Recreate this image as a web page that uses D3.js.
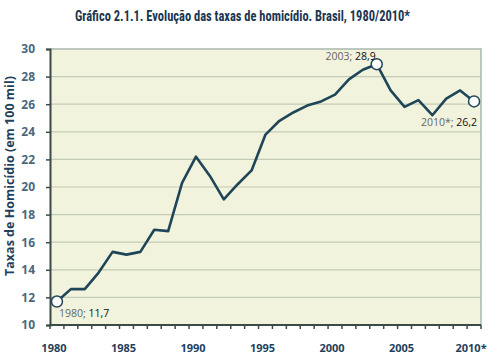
<!DOCTYPE html>
<html>
<head>
<meta charset="utf-8">
<script src="https://cdn.jsdelivr.net/npm/d3@7"></script>
<style>
  html, body { margin: 0; padding: 0; background: #ffffff; }
  svg { display: block; }
</style>
</head>
<body>
<svg id="chart" width="494" height="363"></svg>
<script>
const years = d3.range(1980, 2011);
const rates = [11.7, 12.6, 12.6, 13.8, 15.3, 15.1, 15.3, 16.9, 16.8, 20.3, 22.2, 20.8, 19.1, 20.2, 21.2, 23.8, 24.8, 25.4, 25.9, 26.2, 26.7, 27.8, 28.5, 28.9, 27.0, 25.8, 26.3, 25.2, 26.4, 27.0, 26.2];
const xTickYears = [1980, 1985, 1990, 1995, 2000, 2005, 2010];
const xTickLabels = ["1980", "1985", "1990", "1995", "2000", "2005", "2010*"];
const yTicks = [10, 12, 14, 16, 18, 20, 22, 24, 26, 28, 30];
const annotations = [
  { year: 1980, prefix: "1980; ", value: "11,7" },
  { year: 2003, prefix: "2003; ", value: "28,9" },
  { year: 2010, prefix: "2010*; ", value: "26,2" }
];
const titleText = "Gráfico 2.1.1. Evolução das taxas de homicídio. Brasil, 1980/2010*";
const yTitle = "Taxas de Homicídio (em 100 mil)";

(function () {
const svg = d3.select("#chart");
const pL = 50, pR = 481, pT = 49, pB = 325;

const x = d3.scaleBand().domain(years).range([pL, pR]).padding(0);
const y = d3.scaleLinear().domain([10, 30]).range([pB, pT]);

// plot background
svg.append("rect").attr("x", pL).attr("y", pT)
  .attr("width", pR - pL).attr("height", pB - pT)
  .attr("fill", "#f2f3dc");

// gridlines
svg.append("g").selectAll("line").data(yTicks.filter(d => d > 10 && d < 30)).join("line")
  .attr("x1", pL).attr("x2", pR)
  .attr("y1", d => y(d)).attr("y2", d => y(d))
  .attr("stroke", "#c3ccb6").attr("stroke-width", 1.2);

// top and right border
svg.append("path")
  .attr("d", `M${pL},${pT}H${pR}V${pB}`)
  .attr("fill", "none").attr("stroke", "#a9b8ad").attr("stroke-width", 1.5);

// y axis
const yAxis = svg.append("g").attr("transform", `translate(${pL},0)`)
  .call(d3.axisLeft(y).tickValues(yTicks).tickSize(4).tickFormat(d3.format("d")));
yAxis.select(".domain").attr("stroke", "#3b4a45").attr("stroke-width", 2);
yAxis.selectAll(".tick line").attr("stroke", "#3b4a45").attr("stroke-width", 1.5);
yAxis.selectAll(".tick text")
  .attr("x", -15)
  .attr("fill", "#4b687c")
  .style("font-family", "'Open Sans', sans-serif")
  .style("font-weight", "bold")
  .style("font-size", "12px");

// x axis with ticks at band edges
const xEdges = d3.range(0, years.length + 1).map(i => pL + i * x.bandwidth());
const xAxisG = svg.append("g");
xAxisG.append("line").attr("x1", pL).attr("x2", pR)
  .attr("y1", pB).attr("y2", pB)
  .attr("stroke", "#3b4a45").attr("stroke-width", 2);
xAxisG.selectAll("line.tk").data(xEdges).join("line").attr("class", "tk")
  .attr("x1", d => d).attr("x2", d => d)
  .attr("y1", pB).attr("y2", pB + 4)
  .attr("stroke", "#3b4a45").attr("stroke-width", 1.5);
xAxisG.selectAll("text").data(xTickYears).join("text")
  .attr("x", (d, i) => x(d) + x.bandwidth() / 2 - 3)
  .attr("y", 352)
  .attr("text-anchor", "middle")
  .attr("fill", "#1f3f5c")
  .style("font-family", "'Open Sans', sans-serif")
  .style("font-weight", "bold")
  .style("font-size", "11px")
  .text((d, i) => xTickLabels[i]);

// line
const line = d3.line()
  .x((d, i) => x(years[i]) + x.bandwidth() / 2)
  .y(d => y(d));
svg.append("path").datum(rates)
  .attr("d", line)
  .attr("fill", "none")
  .attr("stroke", "#1f4658")
  .attr("stroke-width", 2.6)
  .attr("stroke-linejoin", "round");

// annotation markers
annotations.forEach(a => {
  const i = years.indexOf(a.year);
  svg.append("circle")
    .attr("cx", x(a.year) + x.bandwidth() / 2)
    .attr("cy", y(rates[i]))
    .attr("r", 5.5)
    .attr("fill", "#ffffff")
    .attr("stroke", "#1f4658")
    .attr("stroke-width", 1.5);
});

// annotation labels
const labelPos = {
  1980: { dx: 2, dy: 15, anchor: "start" },
  2003: { dx: -1, dy: -4, anchor: "end" },
  2010: { dx: 3, dy: 25, anchor: "end" }
};
annotations.forEach(a => {
  const i = years.indexOf(a.year);
  const p = labelPos[a.year];
  const t = svg.append("text")
    .attr("x", x(a.year) + x.bandwidth() / 2 + p.dx)
    .attr("y", y(rates[i]) + p.dy)
    .attr("text-anchor", p.anchor)
    .style("font-family", "'Open Sans', sans-serif")
    .style("font-size", "10.5px");
  t.append("tspan").attr("fill", "#666666").text(a.prefix);
  t.append("tspan").attr("fill", "#111111").text(a.value);
});

// y title
svg.append("text")
  .attr("transform", `translate(14,176) rotate(-90)`)
  .attr("text-anchor", "middle")
  .attr("fill", "#1f3f5c")
  .style("font-family", "'Open Sans', sans-serif")
  .style("font-weight", "bold")
  .style("font-size", "12.5px")
  .text(yTitle);

// title
svg.append("text")
  .attr("x", 242.5).attr("y", 21)
  .attr("text-anchor", "middle")
  .attr("fill", "#1b3550")
  .attr("textLength", 335)
  .attr("lengthAdjust", "spacingAndGlyphs")
  .style("font-family", "'Liberation Sans Narrow', 'Roboto Condensed', sans-serif")
  .style("font-weight", "bold")
  .style("font-size", "14.5px")
  .text(titleText);
})();
</script>
</body>
</html>
